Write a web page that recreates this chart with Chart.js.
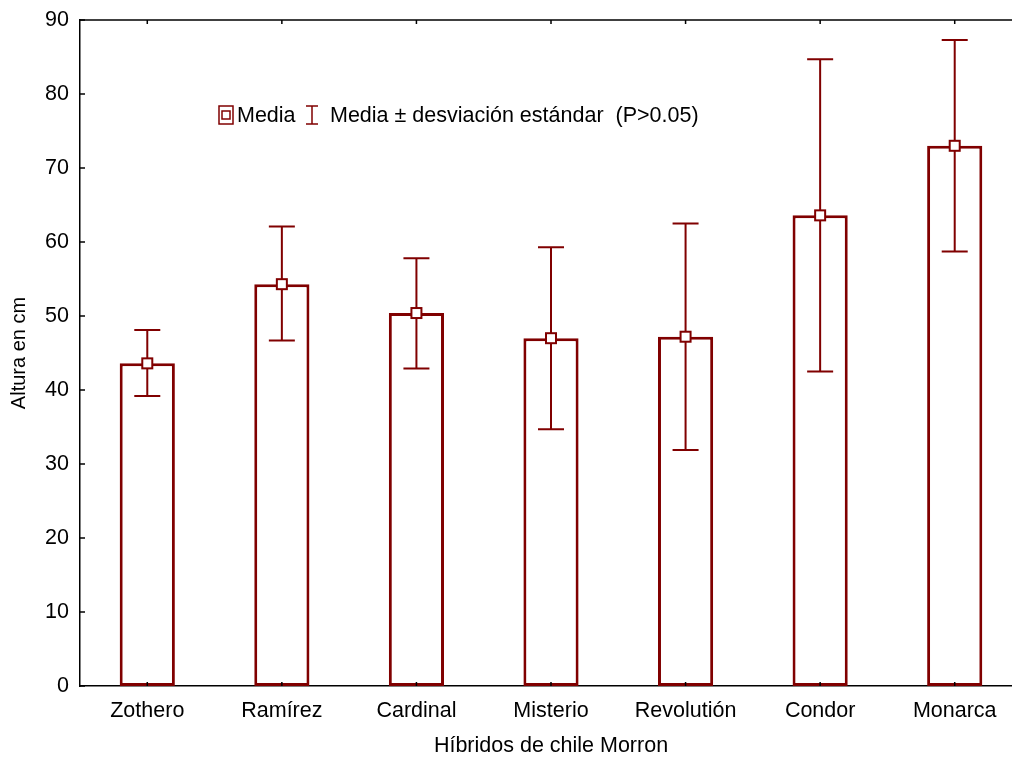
<!DOCTYPE html>
<html>
<head>
<meta charset="utf-8">
<script src="https://cdn.jsdelivr.net/npm/chart.js@4"></script>
<style>
  html, body { margin: 0; padding: 0; background: #fff; overflow: hidden; }
  #wrap { width: 1012px; height: 760px; overflow: hidden; }
  #box { width: 1022px; height: 760px; }
</style>
</head>
<body>
<div id="wrap"><div id="box"><canvas id="myChart"></canvas></div></div>
<script>
// datos
const categories = ['Zothero', 'Ramírez', 'Cardinal', 'Misterio', 'Revolutión', 'Condor', 'Monarca'];
const means = [43.6, 54.3, 50.4, 47.0, 47.2, 63.6, 73.0];
const upper = [48.1, 62.1, 57.8, 59.3, 62.5, 84.7, 87.3];
const lower = [39.2, 46.7, 42.9, 34.7, 31.9, 42.5, 58.7];
const yTicks = [0, 10, 20, 30, 40, 50, 60, 70, 80, 90];

const red = '#800000';
const font = 'Arial, "Liberation Sans", sans-serif';

// barras de error, marcadores, ticks interiores y leyenda
const extras = {
    id: 'extras',
    afterDatasetsDraw(chart) {
        const c = chart.ctx;
        const x = chart.scales.x;
        const y = chart.scales.y;
        const area = chart.chartArea;
        c.save();

        // marco superior
        c.strokeStyle = '#000';
        c.lineWidth = 1.5;
        c.beginPath();
        c.moveTo(area.left, area.top);
        c.lineTo(area.right, area.top);
        c.stroke();

        // ticks interiores
        yTicks.forEach(v => {
            const py = y.getPixelForValue(v);
            c.beginPath();
            c.moveTo(area.left, py);
            c.lineTo(area.left + 5, py);
            c.stroke();
        });
        categories.forEach((cat, i) => {
            const px = x.getPixelForValue(i);
            c.beginPath();
            c.moveTo(px, area.bottom);
            c.lineTo(px, area.bottom - 4);
            c.moveTo(px, area.top);
            c.lineTo(px, area.top + 4);
            c.stroke();
        });

        // desviacion estandar
        c.strokeStyle = red;
        c.lineWidth = 2;
        categories.forEach((cat, i) => {
            const px = x.getPixelForValue(i);
            const top = y.getPixelForValue(upper[i]);
            const bot = y.getPixelForValue(lower[i]);
            c.beginPath();
            c.moveTo(px, top);
            c.lineTo(px, bot);
            c.moveTo(px - 13, top);
            c.lineTo(px + 13, top);
            c.moveTo(px - 13, bot);
            c.lineTo(px + 13, bot);
            c.stroke();
        });

        // media
        categories.forEach((cat, i) => {
            const px = x.getPixelForValue(i);
            const py = y.getPixelForValue(means[i]);
            c.fillStyle = '#fff';
            c.fillRect(px - 5, py - 5, 10, 10);
            c.strokeRect(px - 5, py - 5, 10, 10);
        });

        // leyenda
        c.lineWidth = 1.5;
        c.strokeRect(219, 106, 14, 18);
        c.strokeRect(222, 111, 8, 8);
        c.beginPath();
        c.moveTo(306, 106); c.lineTo(318, 106);
        c.moveTo(312, 106); c.lineTo(312, 124);
        c.moveTo(306, 124); c.lineTo(318, 124);
        c.stroke();
        c.fillStyle = '#000';
        c.font = '21.5px ' + font;
        c.textBaseline = 'middle';
        c.fillText('Media', 237, 116);
        c.fillText('Media \u00b1 desviaci\u00f3n est\u00e1ndar  (P>0.05)', 330, 116);
        c.restore();
    }
};

const ctx = document.getElementById('myChart');

new Chart(ctx, {
    type: 'bar',
    data: {
        labels: categories,
        datasets: [{
            label: 'Media',
            data: means,
            backgroundColor: '#fff',
            borderColor: red,
            borderWidth: 3,
            borderSkipped: false,
            categoryPercentage: 1,
            barPercentage: 0.41
        }]
    },
    options: {
        responsive: true,
        maintainAspectRatio: false,
        animation: false,
        layout: { padding: { top: 20, right: 0, left: 0, bottom: 0 } },
        plugins: {
            legend: { display: false },
            tooltip: { enabled: false }
        },
        scales: {
            x: {
                grid: { display: false, drawTicks: false },
                border: { display: true, color: '#000', width: 1.5 },
                ticks: { color: '#000', padding: 12, font: { size: 21.5, family: font } },
                title: {
                    display: true,
                    text: 'Híbridos de chile Morron',
                    color: '#000',
                    font: { size: 21.5, family: font },
                    padding: { top: 0, bottom: 1 }
                },
                afterFit(scale) {
                    scale.height = 74;
                    scale.paddingLeft = 0;
                    scale.paddingRight = 0;
                }
            },
            y: {
                min: 0,
                max: 90,
                grid: { display: false, drawTicks: false },
                border: { display: true, color: '#000', width: 1.5 },
                ticks: {
                    color: '#000',
                    padding: 11,
                    stepSize: 10,
                    font: { size: 21.5, family: font }
                },
                title: {
                    display: true,
                    text: 'Altura en cm',
                    color: '#000',
                    font: { size: 20, family: font },
                    padding: { top: 7, bottom: 0 }
                },
                afterFit(scale) {
                    scale.width = 80;
                    scale.paddingTop = 0;
                    scale.paddingBottom = 0;
                }
            }
        }
    },
    plugins: [extras]
});
</script>
</body>
</html>
